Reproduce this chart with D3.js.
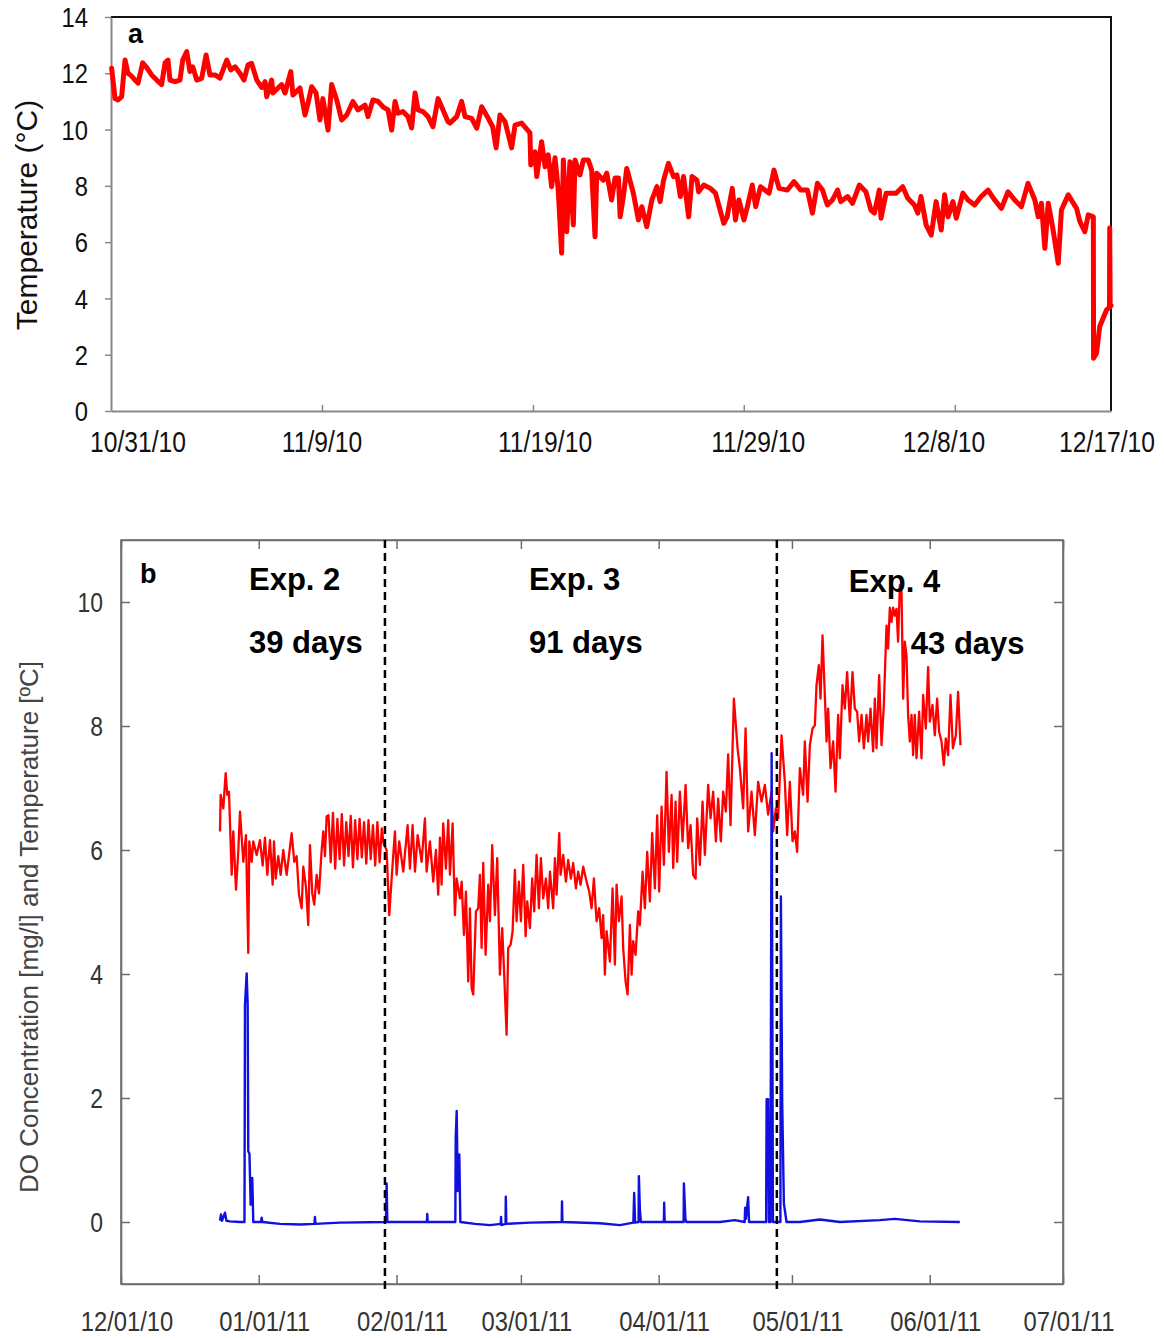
<!DOCTYPE html>
<html><head><meta charset="utf-8">
<script src="https://cdn.jsdelivr.net/npm/d3@7"></script>
<style>
body{margin:0;background:#fff;}
</style></head><body>
<svg id="c" width="1164" height="1338"></svg>
<script>
// ---------------- DATA ----------------
// Panel a: water temperature, x = days since 10/31/10 00:00
const aYTicks = [0, 2, 4, 6, 8, 10, 12, 14];
const aXTickDays = [9.917, 19.83, 29.74, 39.66];
const aXLabels = ["10/31/10", "11/9/10", "11/19/10", "11/29/10", "12/8/10", "12/17/10"];
const aXLabelDays = [1.27, 9.92, 20.40, 30.42, 39.15, 46.81];
const tempA = [
[0.03,12.18],[0.19,11.10],[0.33,11.05],[0.50,11.17],[0.66,12.47],[0.80,12.00],[0.97,11.90],[1.13,11.76],[1.27,11.65],[1.49,12.37],[1.68,12.20],[1.91,11.94],[2.15,11.76],[2.38,11.60],[2.54,12.37],[2.68,12.47],[2.77,11.76],[3.01,11.70],[3.24,11.76],[3.37,12.47],[3.56,12.77],[3.71,12.06],[3.84,12.23],[4.03,11.76],[4.26,11.82],[4.47,12.65],[4.65,11.94],[4.89,11.94],[5.12,11.83],[5.44,12.47],[5.63,12.12],[5.83,12.23],[6.06,12.00],[6.25,11.76],[6.44,12.30],[6.61,12.35],[6.85,11.76],[7.08,11.50],[7.24,11.70],[7.32,11.17],[7.55,11.76],[7.61,11.30],[8.02,11.60],[8.18,11.30],[8.45,12.06],[8.55,11.23],[8.88,11.48],[9.12,10.52],[9.26,10.94],[9.43,11.52],[9.64,11.30],[9.82,10.34],[9.96,11.10],[10.20,9.98],[10.37,11.60],[10.61,11.05],[10.84,10.34],[11.08,10.52],[11.37,11.00],[11.61,10.70],[11.94,10.87],[12.08,10.46],[12.31,11.05],[12.55,11.00],[12.78,10.81],[13.02,10.70],[13.19,9.98],[13.35,11.00],[13.49,10.58],[13.72,10.64],[13.96,10.46],[14.13,10.06],[14.29,11.30],[14.43,10.70],[14.66,10.64],[14.90,10.46],[15.13,10.10],[15.37,11.10],[15.60,10.70],[15.84,10.28],[15.93,10.23],[16.25,10.46],[16.48,11.00],[16.64,10.46],[16.95,10.40],[17.19,10.05],[17.42,10.81],[17.73,10.40],[17.94,10.10],[18.10,9.35],[18.28,10.52],[18.52,10.28],[18.83,9.35],[18.99,10.16],[19.30,10.23],[19.69,9.88],[19.73,8.74],[19.93,9.21],[20.01,8.33],[20.24,9.57],[20.40,8.68],[20.55,9.10],[20.71,7.97],[20.87,9.00],[21.02,7.85],[21.18,5.61],[21.26,8.92],[21.42,6.37],[21.57,8.86],[21.73,6.61],[21.81,8.92],[22.04,8.39],[22.20,8.92],[22.43,8.92],[22.59,8.56],[22.75,6.19],[22.83,8.45],[23.14,8.20],[23.30,8.45],[23.53,7.50],[23.69,8.28],[23.85,8.28],[23.93,6.90],[24.08,7.62],[24.24,8.62],[24.55,7.74],[24.79,6.79],[24.95,7.26],[25.18,6.55],[25.42,7.50],[25.66,7.97],[25.81,7.44],[25.97,8.20],[26.20,8.80],[26.44,8.33],[26.60,8.39],[26.76,7.62],[26.91,8.33],[27.15,6.90],[27.31,8.33],[27.54,8.20],[27.62,7.79],[27.86,8.03],[28.17,7.91],[28.41,7.74],[28.80,6.67],[28.96,6.90],[29.20,7.91],[29.35,6.79],[29.51,7.50],[29.75,6.79],[29.91,7.26],[30.14,8.03],[30.30,7.26],[30.53,7.97],[30.93,7.74],[31.16,8.56],[31.40,7.91],[31.79,7.85],[32.10,8.15],[32.42,7.85],[32.73,7.85],[32.97,7.03],[33.20,8.09],[33.44,7.85],[33.67,7.32],[33.91,7.50],[34.15,7.85],[34.30,7.44],[34.62,7.62],[34.85,7.38],[35.17,8.03],[35.48,7.79],[35.72,7.14],[35.88,7.03],[36.11,7.85],[36.19,6.85],[36.43,7.74],[36.90,7.74],[37.21,7.97],[37.45,7.56],[37.76,7.32],[37.92,7.03],[38.07,7.62],[38.31,6.61],[38.55,6.25],[38.78,7.44],[39.02,6.43],[39.18,7.68],[39.34,6.90],[39.57,7.44],[39.73,6.85],[40.04,7.74],[40.28,7.50],[40.59,7.32],[40.90,7.62],[41.22,7.85],[41.53,7.50],[41.85,7.20],[42.16,7.79],[42.47,7.50],[42.79,7.26],[43.10,8.09],[43.42,7.50],[43.58,6.90],[43.73,7.38],[43.89,5.78],[44.05,7.38],[44.28,6.43],[44.52,5.25],[44.67,7.14],[44.99,7.68],[45.38,7.20],[45.54,6.73],[45.77,6.37],[45.93,6.97],[46.17,6.90],[46.18,1.87],[46.32,2.06],[46.47,3.00],[46.79,3.59],[46.93,3.68],[46.94,6.50],[46.96,3.70],[47.00,3.75]
];

// Panel b: x = days since 12/01/10 00:00 (UTC)
const bYTicks = [0, 2, 4, 6, 8, 10];
const bMonths = [[2010,11],[2011,0],[2011,1],[2011,2],[2011,3],[2011,4],[2011,5],[2011,6]];
const bXLabels = ["12/01/10", "01/01/11", "02/01/11", "03/01/11", "04/01/11", "05/01/11", "06/01/11", "07/01/11"];
const expBoundDays = [59.4, 147.6];
const expTexts = ["Exp. 2", "39 days", "Exp. 3", "91 days", "Exp. 4", "43 days"];
const expTextDays = [28.8, 28.8, 91.8, 91.8, 163.8, 177.75];
const expTextValues = [10.19, 9.18, 10.19, 9.18, 10.16, 9.16];
const tempB = [
[22.28,6.30],[22.43,6.89],[23.02,6.67],[23.56,7.24],[23.92,6.89],[24.30,6.94],[24.91,5.60],[25.27,6.30],[25.88,5.36],[26.39,5.97],[26.78,6.62],[27.52,5.81],[28.13,6.24],[28.64,4.34],[28.87,6.14],[29.41,5.81],[29.77,6.14],[30.53,5.92],[31.28,6.16],[31.88,5.75],[32.40,6.20],[32.92,5.60],[33.53,6.16],[34.13,5.44],[34.43,6.14],[34.81,5.54],[35.39,5.90],[35.93,5.60],[36.52,6.00],[37.28,5.60],[38.41,6.27],[38.99,5.81],[39.53,5.90],[40.05,5.28],[40.66,5.06],[41.02,5.73],[41.63,5.40],[42.14,4.79],[42.53,6.08],[43.04,5.30],[43.49,5.12],[44.03,5.60],[44.55,5.30],[45.16,6.00],[45.52,6.30],[45.90,5.90],[46.28,6.54],
[46.7,6.56],[47.2,5.80],[47.7,6.60],[48.2,5.70],[48.7,6.50],[49.2,5.85],[49.7,6.58],[50.2,5.75],[50.7,6.45],[51.2,5.90],[51.7,6.55],[52.2,5.72],[52.7,6.48],[53.2,5.85],[53.7,6.50],[54.2,5.88],[54.7,6.45],[55.2,5.78],[55.7,6.48],[56.2,5.85],[56.7,6.40],[57.2,5.75],[57.7,6.45],[58.2,5.80],[58.7,6.35],[59.1,6.10],
[59.78,6.00],[60.37,4.95],[60.91,5.54],[61.65,6.30],[62.03,5.60],[62.62,6.14],[63.52,5.65],[64.51,6.40],[65.03,5.70],[65.63,6.40],[66.15,5.65],[66.76,6.24],[67.66,5.81],[68.40,6.51],[68.78,5.65],[69.53,6.14],[70.27,5.49],[70.88,6.00],[71.39,5.28],[71.78,6.20],[72.15,5.44],[72.52,6.43],[73.13,5.70],[73.64,6.48],[74.03,5.60],[74.63,6.43],[75.15,4.95],
[75.53,5.54],[76.28,5.22],[76.66,5.49],[77.18,4.63],[77.63,5.33],[78.14,3.88],[78.53,5.06],[78.91,3.77],[79.27,3.67],[79.88,5.01],[80.39,5.06],[80.78,5.60],[81.16,4.42],[81.52,5.79],[82.06,4.31],[82.64,5.44],[83.03,4.85],[83.54,6.08],[84.15,4.95],[84.67,5.87],[85.28,3.99],[85.79,4.74],[86.24,3.99],[86.78,3.02],[87.14,4.42],[87.68,4.47],[88.13,4.69],[88.65,5.68],[89.03,4.85],[89.55,5.49],[90.00,4.85],[90.52,5.76],[91.06,4.61],[91.42,5.17],[92.03,4.74],[92.54,5.54],[92.99,5.01],[93.53,5.92],[94.05,5.06],[94.50,5.87],[95.02,5.22],[95.63,5.54],[96.14,5.06],[96.53,5.65],[97.27,5.06],[97.65,5.87],[98.03,5.28],[98.62,6.27],[98.93,5.60],[99.52,5.92],[100.13,5.49],[100.64,5.84],[101.25,5.54],[101.77,5.79],[102.38,5.38],[102.89,5.65],[103.43,5.44],[104.02,5.73],[104.78,5.49],[105.37,5.33],[105.91,5.06],[106.43,5.54],[107.03,4.85],[107.62,5.06],[108.16,4.58],[108.52,4.95],[108.90,3.99],[109.28,4.69],[110.03,4.20],[110.63,5.38],[111.15,4.15],[111.53,5.44],[112.05,4.85],[112.66,5.25],[113.02,4.42],[113.56,3.88],[114.01,3.67],[114.53,4.79],[114.91,3.99],[115.27,4.53],[115.81,4.31],[116.39,5.01],[116.78,4.79],[117.38,5.65],[117.90,5.06],[118.42,5.97],[119.03,5.17],[119.54,6.27],[120.15,5.38],[120.67,6.56],[121.12,5.33],[121.66,6.70],[122.18,5.76],[122.78,7.26],[123.30,5.97],[123.91,6.89],[124.27,5.71],[124.81,6.78],[125.17,5.81],[125.78,6.94],[126.38,6.14],[127.06,7.05],[127.64,6.03],[128.18,6.40],[128.77,5.60],[129.31,5.54],[129.67,6.51],[130.28,5.76],[130.88,6.78],[131.40,5.92],[132.14,7.05],[132.68,6.51],[133.27,6.94],[133.88,6.14],[134.39,6.83],[135.00,6.14],[135.52,6.94],[136.13,6.62],[136.64,7.54],[137.18,6.40],[137.93,8.44],[138.38,8.01],[138.76,7.64],[139.28,7.32],[140.02,6.67],[140.56,7.96],[141.14,6.30],[141.91,6.94],[142.65,6.24],[143.39,7.10],[144.16,6.78],[144.90,7.05],[145.64,6.57],[146.41,6.94],[146.77,6.30],[147.38,6.67],[147.89,6.51],[148.66,7.85],[149.40,7.10],[149.92,6.24],[150.53,7.10],[151.13,6.14],[151.65,6.30],[152.17,5.97],[152.78,7.32],[153.52,6.89],[153.90,7.75],[154.51,6.78],[155.03,7.69],[155.63,7.96],[156.15,8.01],[156.53,8.66],[157.05,8.98],[157.43,8.44],[157.88,9.46],[158.40,8.50],[158.78,7.75],[159.14,8.28],[159.68,7.32],[160.27,7.75],[160.81,6.94],[161.39,8.18],[161.78,7.48],[162.38,8.66],[162.90,8.28],[163.42,8.87],[164.03,8.07],[164.63,8.87],[165.15,8.28],[165.67,8.23],[166.12,7.75],[166.66,8.18],[167.18,7.64],[167.78,8.18],[168.14,7.75],[168.68,8.28],[169.27,7.59],[169.65,8.44],[170.03,7.64],[170.62,8.82],[171.16,7.69],[171.68,8.34],[172.28,9.62],[172.64,9.25],[173.03,9.91],[173.41,9.68],[173.77,9.91],[174.15,9.78],[174.53,9.89],[174.89,9.36],[175.28,10.27],[175.66,10.16],[176.02,8.44],[176.40,9.36],[176.78,9.14],[177.14,8.18],[177.53,7.75],[177.91,8.18],[178.27,7.53],[178.65,8.18],[179.03,7.48],[179.62,8.23],[180.16,7.48],[180.52,8.50],[181.13,7.96],[181.64,8.95],[182.03,8.07],[182.63,8.34],[183.15,7.85],[183.67,8.44],[184.12,7.91],[184.66,7.75],[185.18,7.37],[185.63,7.80],[186.14,7.53],[186.68,8.50],[187.22,7.64],[187.88,7.85],[188.39,8.55],[188.93,7.69]
];
const doB = [
[22.28,0.02],[22.50,0.12],[22.73,0.02],[23.40,0.15],[23.74,0.02],[24.53,0.01],[26.78,0.00],[27.79,0.00],[27.90,3.50],[28.28,4.01],[28.51,3.50],[28.64,1.14],[28.91,1.10],[29.18,0.28],[29.54,0.71],[29.77,0.00],[31.50,0.00],[31.66,0.07],[31.82,0.00],[35.78,-0.03],[40.28,-0.04],[43.54,-0.03],[43.65,0.08],[43.76,-0.03],[49.28,-0.01],[59.63,0.00],[59.78,0.62],[59.94,0.00],[68.85,0.00],[68.92,0.13],[69.03,0.00],[75.24,0.00],[75.33,1.36],[75.55,1.79],[75.78,0.50],[76.14,1.09],[76.37,0.00],[79.68,-0.03],[83.05,-0.05],[85.46,-0.03],[85.53,0.08],[85.62,-0.05],[86.54,-0.03],[86.60,0.41],[86.72,-0.03],[92.05,-0.01],[99.18,0.00],[99.25,0.33],[99.34,0.00],[107.78,-0.02],[112.28,-0.05],[115.31,-0.01],[115.49,0.47],[115.70,-0.01],[116.48,0.00],[116.55,0.74],[116.78,0.20],[117.00,0.00],[122.18,0.00],[122.24,0.31],[122.36,0.00],[126.62,0.00],[126.68,0.62],[127.02,0.05],[127.25,0.00],[134.78,0.00],[138.15,0.03],[140.36,0.00],[140.47,0.23],[140.63,0.05],[141.14,0.40],[141.34,0.00],[145.19,0.00],[145.30,1.98],[145.64,1.98],[145.82,0.00],[146.16,0.00],[146.43,7.56],[146.72,0.00],[148.40,0.00],[148.51,5.25],[148.80,1.95],[149.18,0.30],[149.78,0.00],[152.78,0.00],[157.28,0.04],[161.78,0.00],[170.78,0.03],[174.15,0.05],[179.78,0.01],[188.78,0.00]
];

// ---------------- DRAW ----------------
const SANS = '"Liberation Sans",Arial,sans-serif';
const SX = 0.85; // horizontal squeeze of tick labels (narrow look of the original)
const svg = d3.select("#c");
svg.append("rect").attr("width", 1164).attr("height", 1338).attr("fill", "#fff");

function tickLabel(g, x, y, txt, size, anchor, color, dy) {
  g.append("text")
    .attr("transform", `translate(${x},${y}) scale(${SX},1)`)
    .attr("text-anchor", anchor).attr("dy", dy || 0)
    .attr("font-family", SANS).attr("font-size", size).attr("fill", color)
    .text(txt);
}

// ===== Panel a =====
const xA = d3.scaleLinear().domain([0, 47]).range([111, 1111]);
const yA = d3.scaleLinear().domain([0, 14]).range([411, 17]);
const gA = svg.append("g");

gA.append("path")
  .attr("d", `M${xA(0)},${yA(14)}H${xA(47)}V${yA(0)}`)
  .attr("fill", "none").attr("stroke", "#111").attr("stroke-width", 2);

const ayAxis = gA.append("g").attr("transform", `translate(${xA(0)},0)`)
  .call(d3.axisLeft(yA).tickValues(aYTicks).tickSizeInner(6).tickSizeOuter(0).tickFormat(""));
ayAxis.select(".domain").attr("stroke", "#888").attr("stroke-width", 2);
ayAxis.selectAll(".tick line").attr("stroke", "#888").attr("stroke-width", 1.5);
aYTicks.forEach(v => tickLabel(gA, xA(0) - 23, yA(v), String(v), 28, "end", "#111", "0.36em"));

const axAxis = gA.append("g").attr("transform", `translate(0,${yA(0)})`)
  .call(d3.axisBottom(xA).tickValues(aXTickDays).tickSizeInner(-6).tickSizeOuter(0).tickFormat(""));
axAxis.select(".domain").attr("stroke", "#888").attr("stroke-width", 2);
axAxis.selectAll(".tick line").attr("stroke", "#888").attr("stroke-width", 1.5);
aXLabels.forEach((t, i) => tickLabel(gA, xA(aXLabelDays[i]), yA(0) + 41, t, 29, "middle", "#111"));

gA.append("text").attr("transform", `translate(37,${(yA(0) + yA(14)) / 2 + 1}) rotate(-90)`)
  .attr("text-anchor", "middle").attr("font-family", SANS).attr("font-size", 30).attr("fill", "#111")
  .text("Temperature (°C)");

gA.append("text").attr("x", xA(0.8)).attr("y", yA(13.08))
  .attr("font-family", SANS).attr("font-weight", "bold").attr("font-size", 27).attr("fill", "#000").text("a");

gA.append("path").datum(tempA)
  .attr("d", d3.line().x(d => xA(d[0])).y(d => yA(d[1])))
  .attr("fill", "none").attr("stroke", "#ff0000").attr("stroke-width", 5)
  .attr("stroke-linejoin", "round").attr("stroke-linecap", "round");

// ===== Panel b =====
const dayMs = 86400000;
const bBase = Date.UTC(2010, 11, 1);
const toDate = d => new Date(bBase + d * dayMs);
const monthDates = bMonths.map(m => new Date(Date.UTC(m[0], m[1], 1)));
const xB = d3.scaleUtc().domain([monthDates[0], monthDates[monthDates.length - 1]]).range([121, 1063]);
const yB = d3.scaleLinear().domain([-1, 11]).range([1284, 540]);
const gB = svg.append("g");
const GRAY = "#6e6e6e";

gB.append("rect").attr("x", xB.range()[0]).attr("y", yB.range()[1])
  .attr("width", xB.range()[1] - xB.range()[0]).attr("height", yB.range()[0] - yB.range()[1])
  .attr("fill", "none").attr("stroke", GRAY).attr("stroke-width", 1.6);

const byL = gB.append("g").attr("transform", `translate(${xB.range()[0]},0)`)
  .call(d3.axisLeft(yB).tickValues(bYTicks).tickSizeInner(-9).tickSizeOuter(0).tickFormat(""));
const byR = gB.append("g").attr("transform", `translate(${xB.range()[1]},0)`)
  .call(d3.axisRight(yB).tickValues(bYTicks).tickSizeInner(-9).tickSizeOuter(0).tickFormat(""));
const bxT = gB.append("g").attr("transform", `translate(0,${yB.range()[1]})`)
  .call(d3.axisTop(xB).tickValues(monthDates).tickSizeInner(-9).tickSizeOuter(0).tickFormat(""));
const bxB = gB.append("g").attr("transform", `translate(0,${yB.range()[0]})`)
  .call(d3.axisBottom(xB).tickValues(monthDates).tickSizeInner(-9).tickSizeOuter(0).tickFormat(""));
[byL, byR, bxT, bxB].forEach(a => {
  a.select(".domain").attr("stroke", GRAY).attr("stroke-width", 1.6);
  a.selectAll(".tick line").attr("stroke", GRAY).attr("stroke-width", 1.5);
});
bYTicks.forEach(v => tickLabel(gB, xB.range()[0] - 18, yB(v), String(v), 27, "end", "#333", "0.36em"));
bXLabels.forEach((t, i) => tickLabel(gB, xB(monthDates[i]) + 6, yB.range()[0] + 47, t, 28, "middle", "#333"));

gB.append("text").attr("transform", `translate(38,${(yB(-1) + yB(11)) / 2 + 15}) rotate(-90)`)
  .attr("text-anchor", "middle").attr("font-family", SANS).attr("font-size", 26).attr("fill", "#444")
  .text("DO Concentration [mg/l] and Temperature [ºC]");

const lineB = d3.line().x(d => xB(toDate(d[0]))).y(d => yB(d[1]));
gB.append("path").datum(tempB).attr("d", lineB)
  .attr("fill", "none").attr("stroke", "#ff0000").attr("stroke-width", 2.3).attr("stroke-linejoin", "round");
gB.append("path").datum(doB).attr("d", lineB)
  .attr("fill", "none").attr("stroke", "#1010e0").attr("stroke-width", 2.4).attr("stroke-linejoin", "round");

gB.selectAll("line.exp").data(expBoundDays).join("line").attr("class", "exp")
  .attr("x1", d => xB(toDate(d))).attr("x2", d => xB(toDate(d)))
  .attr("y1", yB(11)).attr("y2", yB(-1) + 8)
  .attr("stroke", "#000").attr("stroke-width", 2.5).attr("stroke-dasharray", "8,5");

gB.selectAll("text.exp").data(expTexts).join("text").attr("class", "exp")
  .attr("x", (d, i) => xB(toDate(expTextDays[i]))).attr("y", (d, i) => yB(expTextValues[i]))
  .attr("font-family", SANS).attr("font-weight", "bold").attr("font-size", 31).attr("fill", "#000")
  .text(d => d);

gB.append("text").attr("x", xB(toDate(4.3))).attr("y", yB(10.3))
  .attr("font-family", SANS).attr("font-weight", "bold").attr("font-size", 27).attr("fill", "#000").text("b");
</script>
</body></html>
